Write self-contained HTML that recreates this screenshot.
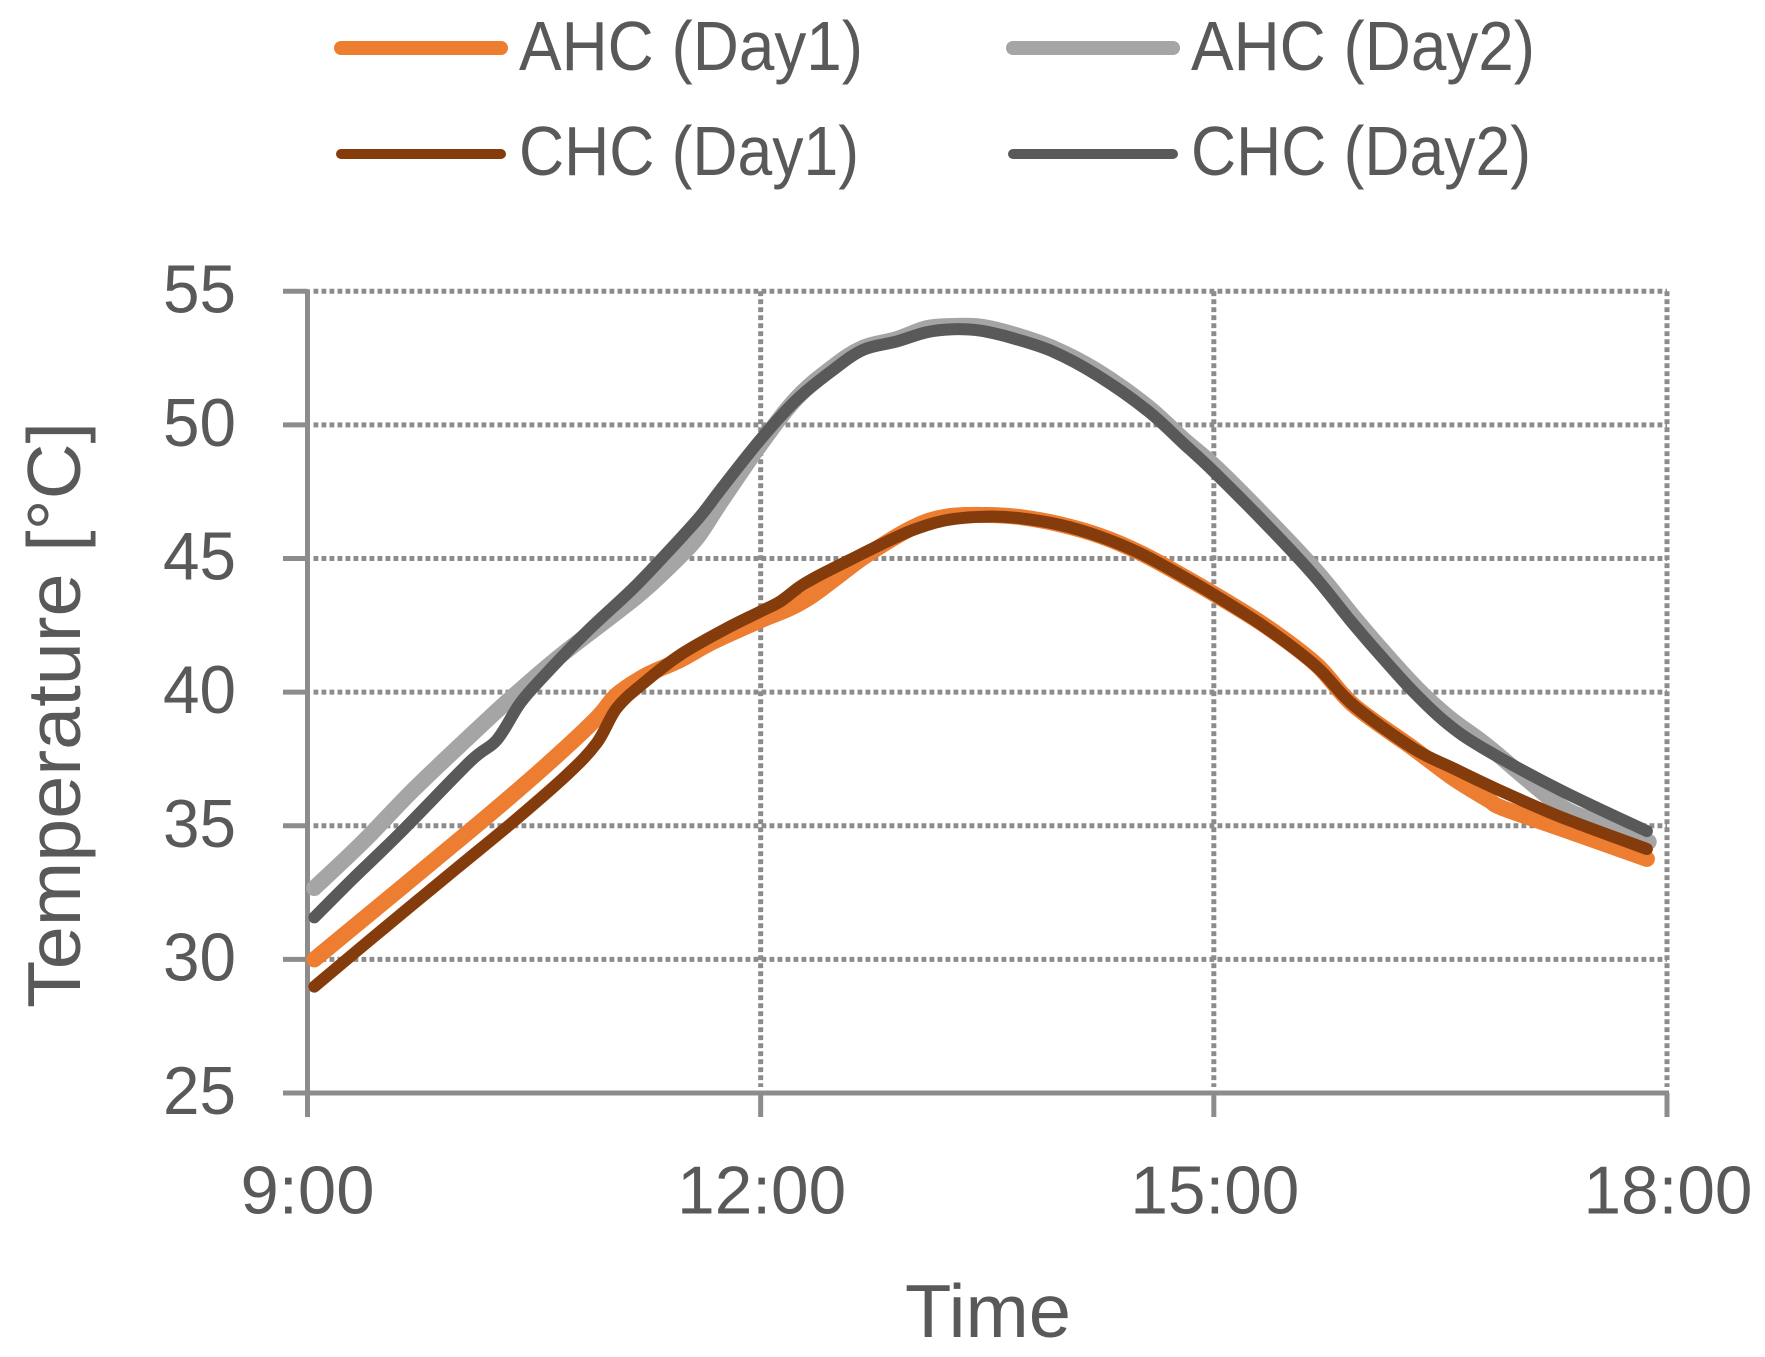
<!DOCTYPE html>
<html lang="en">
<head>
<meta charset="utf-8">
<title>Temperature chart</title>
<style>
html,body{margin:0;padding:0;background:#fff;}
svg{display:block;}
text{font-family:"Liberation Sans",sans-serif;fill:#595959;}
</style>
</head>
<body>
<svg id="chart" xmlns="http://www.w3.org/2000/svg" width="1765" height="1357" viewBox="0 0 1765 1357">
  <g id="grid"></g>
  <g id="axes"></g>
  <g id="series"></g>
  <g id="labels"></g>
  <text x="905" y="1337" font-size="75" textLength="166" lengthAdjust="spacingAndGlyphs">Time</text>
  <text transform="translate(80 1008) rotate(-90)" font-size="75" textLength="586" lengthAdjust="spacingAndGlyphs">Temperature [°C]</text>
  <g>
    <g>
      <line x1="341" y1="48" x2="501" y2="48" stroke="#ed7d31" stroke-width="14" stroke-linecap="round"/>
      <text x="519" y="70" font-size="70" textLength="344" lengthAdjust="spacingAndGlyphs">AHC (Day1)</text>
    </g>
    <g>
      <line x1="1013" y1="48" x2="1173" y2="48" stroke="#a5a5a5" stroke-width="14" stroke-linecap="round"/>
      <text x="1191" y="70" font-size="70" textLength="344" lengthAdjust="spacingAndGlyphs">AHC (Day2)</text>
    </g>
    <g>
      <line x1="341" y1="154" x2="501" y2="154" stroke="#843c0c" stroke-width="10" stroke-linecap="round"/>
      <text x="519" y="175" font-size="70" textLength="340" lengthAdjust="spacingAndGlyphs">CHC (Day1)</text>
    </g>
    <g>
      <line x1="1013" y1="154" x2="1173" y2="154" stroke="#595959" stroke-width="10" stroke-linecap="round"/>
      <text x="1191" y="175" font-size="70" textLength="340" lengthAdjust="spacingAndGlyphs">CHC (Day2)</text>
    </g>
  </g>
</svg>
<script>
// Axis tick values
const yTicks = [25, 30, 35, 40, 45, 50, 55];
const xTicks = [9, 12, 15, 18];
const xTickLabels = ["9:00", "12:00", "15:00", "18:00"];

// AHC (Day1): time in decimal hours, temperature in degrees C
const ahcDay1Times = [9.045,10.12,10.584,10.914,11.047,11.245,11.466,11.687,11.996,12.194,12.348,12.525,12.702,13.01,13.231,13.496,13.717,13.981,14.246,14.511,14.776,15.041,15.35,15.681,15.923,16.32,16.585,16.817,16.91,17.292,17.867];
const ahcDay1Values = [30.0,35.02,37.28,39.02,39.9,40.64,41.2,41.89,42.68,43.14,43.64,44.39,45.13,46.17,46.57,46.63,46.55,46.28,45.85,45.22,44.41,43.54,42.45,41.02,39.52,37.9,36.78,35.97,35.67,34.91,33.76];

// AHC (Day2)
const ahcDay2Times = [9.045,9.37,9.7,10.14,10.362,10.694,11.179,11.42,11.577,11.731,11.996,12.238,12.48,12.679,12.9,13.099,13.275,13.452,13.672,13.937,14.224,14.555,14.798,15.02,15.372,15.681,15.923,16.122,16.343,16.563,16.817,17.27,17.53,17.879];
const ahcDay2Values = [32.67,34.41,36.34,38.7,39.85,41.45,43.57,44.82,45.76,47.07,49.25,51.0,52.18,52.89,53.21,53.62,53.7,53.68,53.39,52.87,52.03,50.71,49.46,48.38,46.38,44.51,42.83,41.52,40.15,39.02,37.96,35.84,35.15,34.4];

// CHC (Day1)
const chcDay1Times = [9.045,9.48,9.988,10.362,10.716,10.914,11.047,11.223,11.466,11.775,11.996,12.128,12.26,12.371,12.591,12.79,13.01,13.231,13.496,13.717,13.981,14.246,14.511,14.776,15.041,15.35,15.681,15.923,16.32,16.585,16.864,17.292,17.867];
const chcDay1Values = [28.98,31.04,33.41,35.15,36.9,38.09,39.4,40.33,41.39,42.39,43.01,43.39,43.95,44.32,44.95,45.51,46.07,46.44,46.57,46.51,46.26,45.82,45.2,44.39,43.51,42.39,40.95,39.52,37.9,37.15,36.4,35.34,34.13];

// CHC (Day2)
const chcDay2Times = [9.045,9.303,9.612,10.076,10.253,10.407,10.561,10.848,11.157,11.378,11.598,11.731,11.996,12.238,12.48,12.679,12.9,13.099,13.275,13.452,13.672,13.937,14.224,14.555,14.798,15.0,15.35,15.658,15.901,16.1,16.32,16.541,16.784,17.292,17.867];
const chcDay2Values = [31.57,33.03,34.72,37.4,38.21,39.58,40.58,42.26,43.89,45.2,46.57,47.55,49.44,50.94,52.06,52.81,53.12,53.47,53.58,53.53,53.24,52.74,51.87,50.56,49.31,48.25,46.26,44.39,42.7,41.39,40.02,38.84,37.9,36.34,34.8];

const NS = "http://www.w3.org/2000/svg";
const AXIS = "#8c8c8c";
const LEFT = 307.5, RIGHT = 1667, TOP = 291.3, BOTTOM = 1093;

function xScale(h) { return LEFT + (h - 9) / 9 * (RIGHT - LEFT); }
function yScale(v) { return BOTTOM - (v - 25) / 30 * (BOTTOM - TOP); }

function line(parent, x1, y1, x2, y2, width, dash) {
  const el = document.createElementNS(NS, "line");
  el.setAttribute("x1", x1);
  el.setAttribute("y1", y1);
  el.setAttribute("x2", x2);
  el.setAttribute("y2", y2);
  el.setAttribute("stroke", AXIS);
  el.setAttribute("stroke-width", width);
  if (dash) el.setAttribute("stroke-dasharray", dash);
  parent.appendChild(el);
  return el;
}

const gridGroup = document.getElementById("grid");
const axesGroup = document.getElementById("axes");
const labelGroup = document.getElementById("labels");
const seriesGroup = document.getElementById("series");

yTicks.forEach(function (v) {
  const y = yScale(v);
  if (v > 25) {
    const g = line(gridGroup, LEFT + 6, y, RIGHT, y, 5, "4.8 3.2");
    
    
  }
  const t = line(axesGroup, 283, y, LEFT, y, 5);
  
  
  const label = document.createElementNS(NS, "text");
  label.setAttribute("x", 236);
  label.setAttribute("y", y + 21);
  label.setAttribute("font-size", "68");
  label.setAttribute("text-anchor", "end");
  label.setAttribute("textLength", "73");
  label.setAttribute("lengthAdjust", "spacingAndGlyphs");
  label.textContent = String(v);
  
  
  labelGroup.appendChild(label);
});

xTicks.forEach(function (h, i) {
  const x = xScale(h);
  if (h > 9) {
    const g = line(gridGroup, x, TOP, x, BOTTOM - 6, 5, "4.8 3.2");
    
    
  }
  const t = line(axesGroup, x, BOTTOM, x, 1117, 5);
  
  
  const label = document.createElementNS(NS, "text");
  label.setAttribute("x", i === 0 ? x : x + 1);
  label.setAttribute("y", 1213.5);
  label.setAttribute("font-size", "68");
  label.setAttribute("text-anchor", "middle");
  label.setAttribute("textLength", xTickLabels[i].length === 4 ? "134" : "169");
  label.setAttribute("lengthAdjust", "spacingAndGlyphs");
  label.textContent = xTickLabels[i];
  
  
  labelGroup.appendChild(label);
});

const yAxisLine = line(axesGroup, LEFT, TOP - 2, LEFT, 1117, 5);


const xAxisLine = line(axesGroup, 283, BOTTOM, RIGHT + 2, BOTTOM, 5);



// Smooth curve through the points, like a spreadsheet "smoothed line"
function smoothPath(times, values) {
  const p = times.map(function (h, i) {
    return [xScale(h), yScale(values[i])];
  });
  let d = "M" + p[0][0].toFixed(1) + " " + p[0][1].toFixed(1);
  for (let i = 0; i < p.length - 1; i++) {
    const a = p[Math.max(i - 1, 0)], b = p[i], c = p[i + 1], e = p[Math.min(i + 2, p.length - 1)];
    const c1x = b[0] + (c[0] - a[0]) / 6, c1y = b[1] + (c[1] - a[1]) / 6;
    const c2x = c[0] - (e[0] - b[0]) / 6, c2y = c[1] - (e[1] - b[1]) / 6;
    d += "C" + c1x.toFixed(1) + " " + c1y.toFixed(1) + " " + c2x.toFixed(1) + " " + c2y.toFixed(1) + " " + c[0].toFixed(1) + " " + c[1].toFixed(1);
  }
  return d;
}

function drawSeries(times, values, color, width, name) {
  const el = document.createElementNS(NS, "path");
  el.setAttribute("d", smoothPath(times, values));
  el.setAttribute("fill", "none");
  el.setAttribute("stroke", color);
  el.setAttribute("stroke-width", width);
  el.setAttribute("stroke-linecap", "round");
  el.setAttribute("stroke-linejoin", "round");
  
  
  seriesGroup.appendChild(el);
}

drawSeries(ahcDay1Times, ahcDay1Values, "#ed7d31", 16, "line-ahc-day1");
drawSeries(ahcDay2Times, ahcDay2Values, "#a5a5a5", 16, "line-ahc-day2");
drawSeries(chcDay1Times, chcDay1Values, "#843c0c", 12, "line-chc-day1");
drawSeries(chcDay2Times, chcDay2Values, "#595959", 12, "line-chc-day2");
</script>
</body>
</html>
